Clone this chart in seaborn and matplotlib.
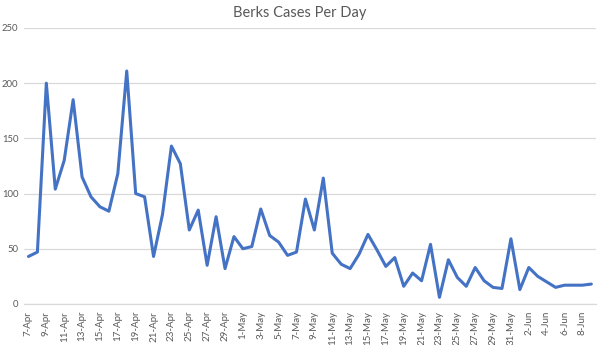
import matplotlib
matplotlib.use("Agg")
import matplotlib.pyplot as plt
import seaborn as sns
import pandas as pd
import numpy as np

# Daily new cases, 7 April through 9 June
start_date = "2020-04-07"
end_date = "2020-06-09"
cases = [43, 47, 200, 104, 130, 185, 115, 97, 88, 84,
         118, 211, 100, 97, 43, 81, 143, 127, 67, 85,
         35, 79, 32, 61, 50, 52, 86, 62, 56, 44,
         47, 95, 67, 114, 46, 36, 32, 45, 63, 49,
         34, 42, 16, 28, 21, 54, 6, 40, 24, 16,
         33, 21, 15, 14, 59, 13, 33, 25, 20, 15,
         17, 17, 17, 18]
y_ticks = [0, 50, 100, 150, 200, 250]
title = "Berks Cases Per Day"

dates = pd.date_range(start_date, end_date, freq="D")
day_labels = [f"{d.day}-{d:%b}" for d in dates]
df = pd.DataFrame({"pos": np.arange(len(cases)), "cases": cases})

sns.set_style("white")
plt.rcParams["font.family"] = ["Lato", "DejaVu Sans"]

fig = plt.figure(figsize=(6.0, 3.45), dpi=100)
ax = fig.add_axes([0.04, 0.119, 0.953, 0.8])

sns.lineplot(data=df, x="pos", y="cases", ax=ax, color="#4472C4",
             linewidth=2.2, zorder=3)

ax.set_xlim(-0.5, len(cases) - 0.5)
ax.set_ylim(0, 250)
ax.set_yticks(y_ticks)
ax.yaxis.grid(True, color="#D9D9D9", linewidth=0.9)
ax.set_axisbelow(True)

label_pos = np.arange(0, len(cases), 2)
ax.set_xticks(label_pos)
ax.set_xticklabels([day_labels[i] for i in label_pos], rotation=90)
ax.set_xticks(np.arange(-0.5, len(cases), 2), minor=True)
ax.tick_params(axis="x", which="major", length=0, pad=5, labelsize=7,
               labelcolor="#595959")
ax.tick_params(axis="x", which="minor", length=4, width=0.8,
               color="#D9D9D9", direction="out")
ax.tick_params(axis="y", length=0, pad=4, labelsize=6.8, labelcolor="#595959")

for side in ["top", "right", "left"]:
    ax.spines[side].set_visible(False)
ax.spines["bottom"].set_color("#D9D9D9")
ax.spines["bottom"].set_linewidth(0.9)

ax.set_xlabel("")
ax.set_ylabel("")
fig.text(0.5, 0.962, title, ha="center", va="center", fontsize=10.5,
         color="#595959")

fig.savefig("out.png", dpi=100)
